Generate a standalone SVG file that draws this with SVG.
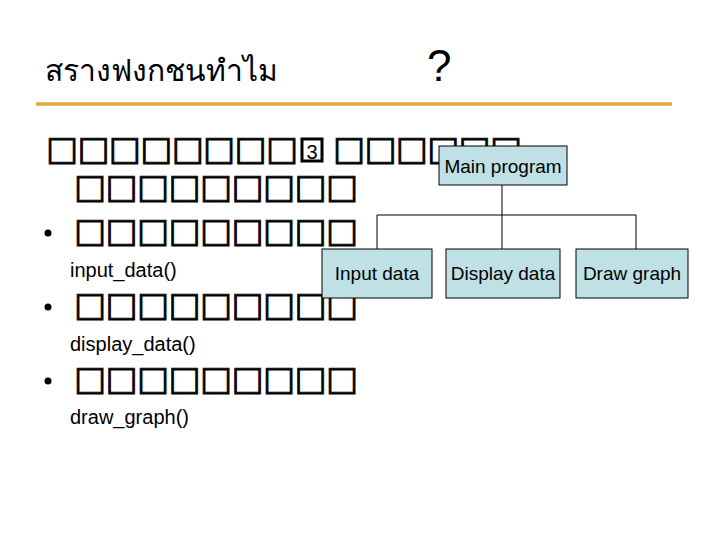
<svg xmlns="http://www.w3.org/2000/svg" width="720" height="540" viewBox="0 0 720 540">
<style>
.box{font-family:"DejaVu Sans",sans-serif;font-weight:bold;font-size:34px;fill:#000;stroke:#000;stroke-width:0.8}
.fn{font-family:"Liberation Sans",Arial,sans-serif;font-size:20px;fill:#000}
.node rect{fill:#BFE0E4;stroke:#000;stroke-width:1}
.node text{font-family:"Liberation Sans",Arial,sans-serif;font-size:19px;fill:#000;text-anchor:middle}
.bul{fill:#000}
</style>
<rect width="720" height="540" fill="#fff"/>
<g id="title">
<text x="45" y="81" font-family="DejaVu Sans, sans-serif" font-size="30" fill="#000">สรางฟงกชนทำไม</text>
<text x="427" y="81" font-family="Liberation Sans, Arial, sans-serif" font-size="44" fill="#000">?</text>
<line x1="36" y1="104" x2="672" y2="104" stroke="#E5A43C" stroke-width="3.5"/>
</g>
<g id="body">
<text class="box" x="46" y="160" textLength="252" lengthAdjust="spacing">□□□□□□□□</text>
<rect x="302" y="139" width="20" height="22" fill="none" stroke="#000" stroke-width="3"/>
<text x="312" y="159" font-family="Liberation Sans, Arial, sans-serif" font-size="20" text-anchor="middle">3</text>
<text class="box" x="333" y="160" textLength="189" lengthAdjust="spacing">□□□□□□</text>
<text class="box" x="74" y="198" textLength="284" lengthAdjust="spacing">□□□□□□□□□</text>
<circle class="bul" cx="48" cy="233" r="3.5"/>
<text class="box" x="74" y="242" textLength="284" lengthAdjust="spacing">□□□□□□□□□</text>
<text class="fn" x="70" y="277">input_data()</text>
<circle class="bul" cx="48" cy="307" r="3.5"/>
<text class="box" x="74" y="316" textLength="284" lengthAdjust="spacing">□□□□□□□□□</text>
<text class="fn" x="70" y="351">display_data()</text>
<circle class="bul" cx="48" cy="381" r="3.5"/>
<text class="box" x="74" y="390" textLength="284" lengthAdjust="spacing">□□□□□□□□□</text>
<text class="fn" x="70" y="424">draw_graph()</text>
</g>
<g id="connectors" fill="none" stroke="#000" stroke-width="1">
<path d="M502 185V215M377 215H636M377 215V249M502 215V249M636 215V249"/>
</g>
<g id="main" class="node"><rect x="439" y="146" width="128" height="39"/><text x="503" y="173">Main program</text></g>
<g id="input" class="node"><rect x="322" y="249" width="110" height="49"/><text x="377" y="280">Input data</text></g>
<g id="display" class="node"><rect x="446" y="249" width="114" height="49"/><text x="503" y="280">Display data</text></g>
<g id="draw" class="node"><rect x="576" y="249" width="112" height="49"/><text x="632" y="280">Draw graph</text></g>
</svg>
